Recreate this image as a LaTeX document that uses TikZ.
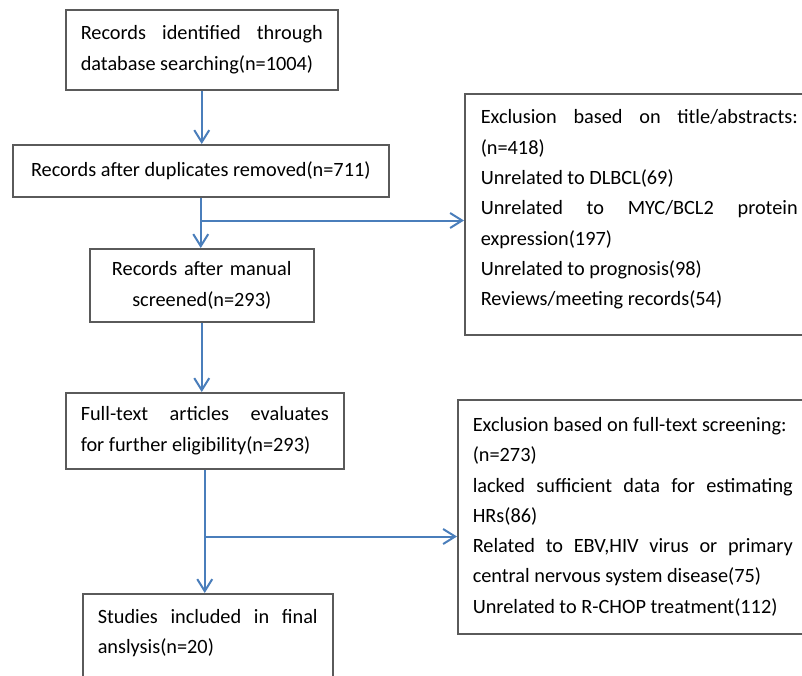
\documentclass[tikz,border=0pt]{standalone}
\usepackage{fontspec}
\setmainfont{Carlito}
\usetikzlibrary{arrows.meta}

\definecolor{linkblue}{RGB}{74,126,187}
\definecolor{boxgray}{RGB}{90,90,90}
\newcommand{\flowsize}{\fontsize{20.3}{30.3}\selectfont}
\tikzset{
  flowbox/.style={draw=boxgray, line width=1.5pt, inner xsep=15pt, inner ysep=0pt,
    anchor=north west, font=\flowsize, align=justify},
  flowlink/.style={draw=linkblue, line width=2pt,
    -{Straight Barb[length=12pt,width=15pt]}},
}

\begin{document}
\begin{tikzpicture}[x=1pt,y=-1pt]
\useasboundingbox (0,0) rectangle (802,675);
\clip (0,0) rectangle (802,675);
% Main column
\node[flowbox, text width=242pt, minimum height=80pt] (ident) at (65,9)
  {Records identified through\linebreak database searching(n=1004)};
\node[flowbox, align=center, inner xsep=16pt, minimum width=376pt, minimum height=52pt] (dedup) at (12,144)
  {Records after duplicates removed(n=711)};
\node[flowbox, align=center, text width=194pt, minimum height=73pt] (manual) at (89,248)
  {Records after manual\\screened(n=293)};
\node[flowbox, text width=248pt, minimum height=76pt] (fulltext) at (65,392)
  {Full-text articles evaluates\linebreak for further eligibility(n=293)};
\node[flowbox, text width=220pt, minimum height=100pt] (included) at (82,593)
  {Studies included in final\linebreak anslysis(n=20)\rule[-25pt]{0pt}{25pt}};
% Exclusion boxes
\node[flowbox, inner xsep=16pt, text width=317pt, minimum height=241pt] (exclA) at (464,93)
  {Exclusion based on title/abstracts:\linebreak (n=418)\\
   Unrelated to DLBCL(69)\\
   Unrelated to MYC/BCL2 protein\linebreak expression(197)\\
   Unrelated to prognosis(98)\\
   Reviews/meeting records(54)\rule[-13pt]{0pt}{13pt}};
\node[flowbox, text width=320pt, minimum height=234pt] (exclB) at (457,399)
  {Exclusion based on full-text screening:\\
   (n=273)\\
   lacked sufficient data for estimating\linebreak HRs(86)\\
   Related to EBV,HIV virus or primary\linebreak central nervous system disease(75)\\
   Unrelated to R-CHOP treatment(112)};
% Arrows
\path (dedup.south) ++(0,23) coordinate (split1);
\path (fulltext.south) ++(0,67) coordinate (split2);
\draw[flowlink] (ident.south) -- (ident.south |- dedup.north);
\draw[flowlink] (dedup.south) -- (dedup.south |- manual.north);
\draw[flowlink] (split1) -- (split1 -| exclA.west);
\draw[flowlink] (manual.south) -- (manual.south |- fulltext.north);
\draw[flowlink] (fulltext.south) -- (fulltext.south |- included.north);
\draw[flowlink] (split2) -- (split2 -| exclB.west);
\end{tikzpicture}
\end{document}
